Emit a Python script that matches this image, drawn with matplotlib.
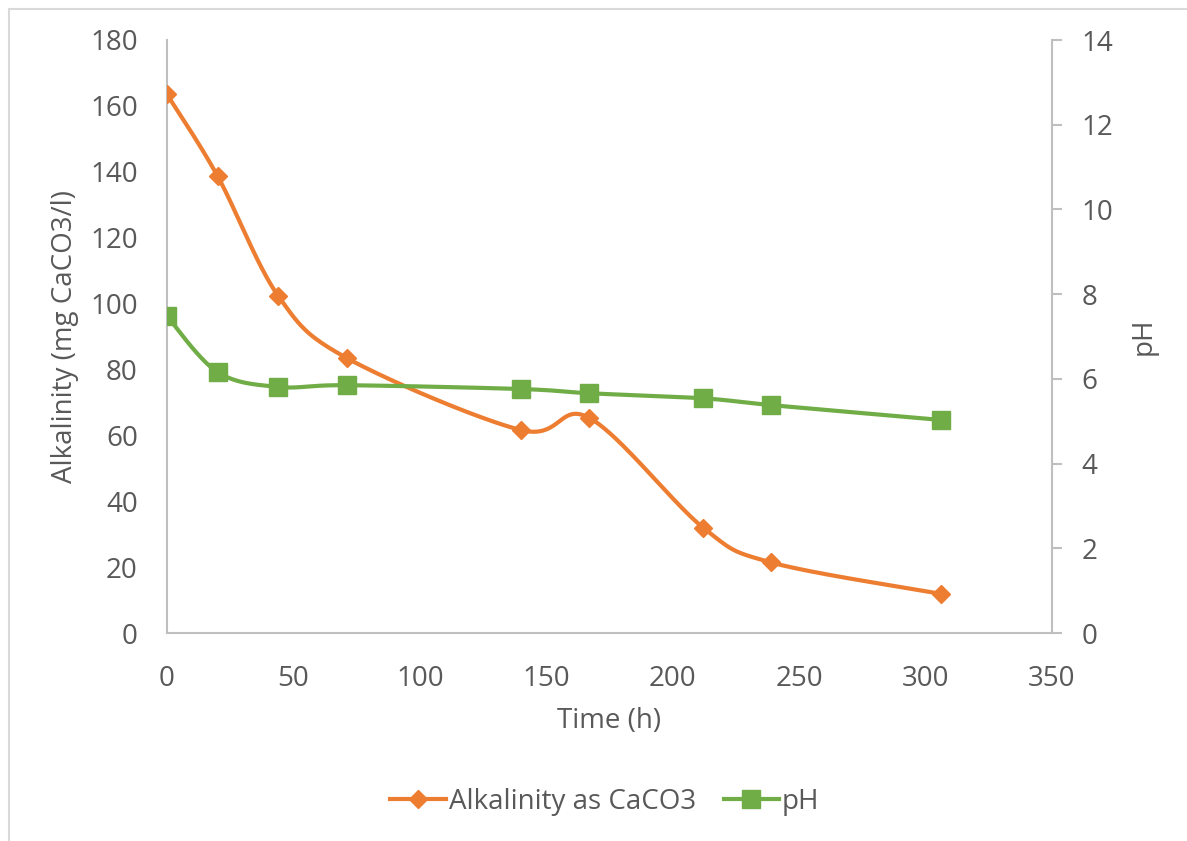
import numpy as np
import matplotlib
matplotlib.use("Agg")
import matplotlib.pyplot as plt
from matplotlib.lines import Line2D
from matplotlib.patches import Rectangle

# ---- data ----
time_h = [0, 20, 44, 71, 140, 167, 212, 239, 306]
alkalinity = [163.5, 138.7, 102.3, 83.5, 61.6, 65.3, 32.0, 21.4, 11.9]
ph = [7.48, 6.16, 5.81, 5.85, 5.76, 5.66, 5.54, 5.38, 5.03]

x_ticks = [0, 50, 100, 150, 200, 250, 300, 350]
y1_ticks = [0, 20, 40, 60, 80, 100, 120, 140, 160, 180]
y2_ticks = [0, 2, 4, 6, 8, 10, 12, 14]

ORANGE = "#ED7D31"
GREEN = "#70AD47"
TXT = "#595959"
AXC = "#BFBFBF"

plt.rcParams['font.family'] = ['Open Sans', 'DejaVu Sans']


def smooth(xs, ys, n=40):
    """Excel-like smoothed line (Catmull-Rom Bezier)."""
    p = np.column_stack([xs, ys]).astype(float)
    pts = np.vstack([p[0], p, p[-1]])
    out = []
    t = np.linspace(0, 1, n)
    for i in range(1, len(pts) - 2):
        p0, p1, p2, p3 = pts[i - 1], pts[i], pts[i + 1], pts[i + 2]
        c1 = p1 + (p2 - p0) / 6.0
        c2 = p2 - (p3 - p1) / 6.0
        seg = ((1 - t) ** 3)[:, None] * p1 + (3 * (1 - t) ** 2 * t)[:, None] * c1 \
            + (3 * (1 - t) * t ** 2)[:, None] * c2 + (t ** 3)[:, None] * p2
        out.append(seg if i == 1 else seg[1:])
    s = np.vstack(out)
    return s[:, 0], s[:, 1]


W, H = 1187, 841
fig = plt.figure(figsize=(W / 100, H / 100), dpi=100)
fig.patch.set_facecolor("white")
fig.patches.append(Rectangle((9 / W, -0.1), 1.2, 1 - 9 / H + 0.1, transform=fig.transFigure,
                             fill=False, edgecolor="#D9D9D9", linewidth=1.5))

ax = fig.add_axes([167 / W, 1 - 633 / H, (1052 - 167) / W, (633 - 40) / H])
ax2 = ax.twinx()

MS_D = 9.6
MS_S = 12.5

sx, sy = smooth(time_h, alkalinity)
ax.plot(sx, sy, color=ORANGE, lw=3, solid_capstyle="round", zorder=3)
ax.plot(time_h, alkalinity, linestyle="none", marker="D", markersize=MS_D,
        color=ORANGE, zorder=4)

px, py = smooth(time_h, ph)
ax2.plot(px, py, color=GREEN, lw=3, solid_capstyle="round", zorder=3)
ax2.plot(time_h, ph, linestyle="none", marker="s", markersize=MS_S,
         color=GREEN, zorder=4)

ax.set_xlim(0, 350)
ax.set_ylim(0, 180)
ax2.set_ylim(0, 14)
ax.set_xticks(x_ticks)
ax.set_yticks(y1_ticks)
ax2.set_yticks(y2_ticks)

for a in (ax, ax2):
    for s in a.spines.values():
        s.set_visible(False)
ax.spines['left'].set_visible(True)
ax.spines['bottom'].set_visible(True)
ax2.spines['right'].set_visible(True)
for s in (ax.spines['left'], ax.spines['bottom'], ax2.spines['right']):
    s.set_color(AXC)
    s.set_linewidth(1.5)

FS = 20
ax.tick_params(axis='x', length=0, pad=23, labelsize=FS, labelcolor=TXT)
ax.tick_params(axis='y', length=0, pad=21, labelsize=FS, labelcolor=TXT)
ax2.tick_params(axis='y', length=7, width=1.5, color=AXC, direction='out',
                pad=14, labelsize=FS, labelcolor=TXT)

ax.set_xlabel("Time (h)", fontsize=FS, color=TXT, labelpad=10)
ax.set_ylabel("Alkalinity (mg CaCO3/l)", fontsize=FS, color=TXT, labelpad=8)
ax2.set_ylabel("pH", fontsize=FS, color=TXT, rotation=90, labelpad=12)

h1 = Line2D([], [], color=ORANGE, lw=3, marker="D", markersize=MS_D)
h2 = Line2D([], [], color=GREEN, lw=3, marker="s", markersize=MS_S)
fig.legend([h1, h2], ["Alkalinity as CaCO3", "pH"], loc="center",
           bbox_to_anchor=(605 / W, 1 - 802 / H), ncol=2, frameon=False,
           fontsize=FS, labelcolor=TXT, handlelength=2.0, handletextpad=0.1,
           columnspacing=1.0)

fig.savefig("out.png", dpi=100, facecolor="white")
